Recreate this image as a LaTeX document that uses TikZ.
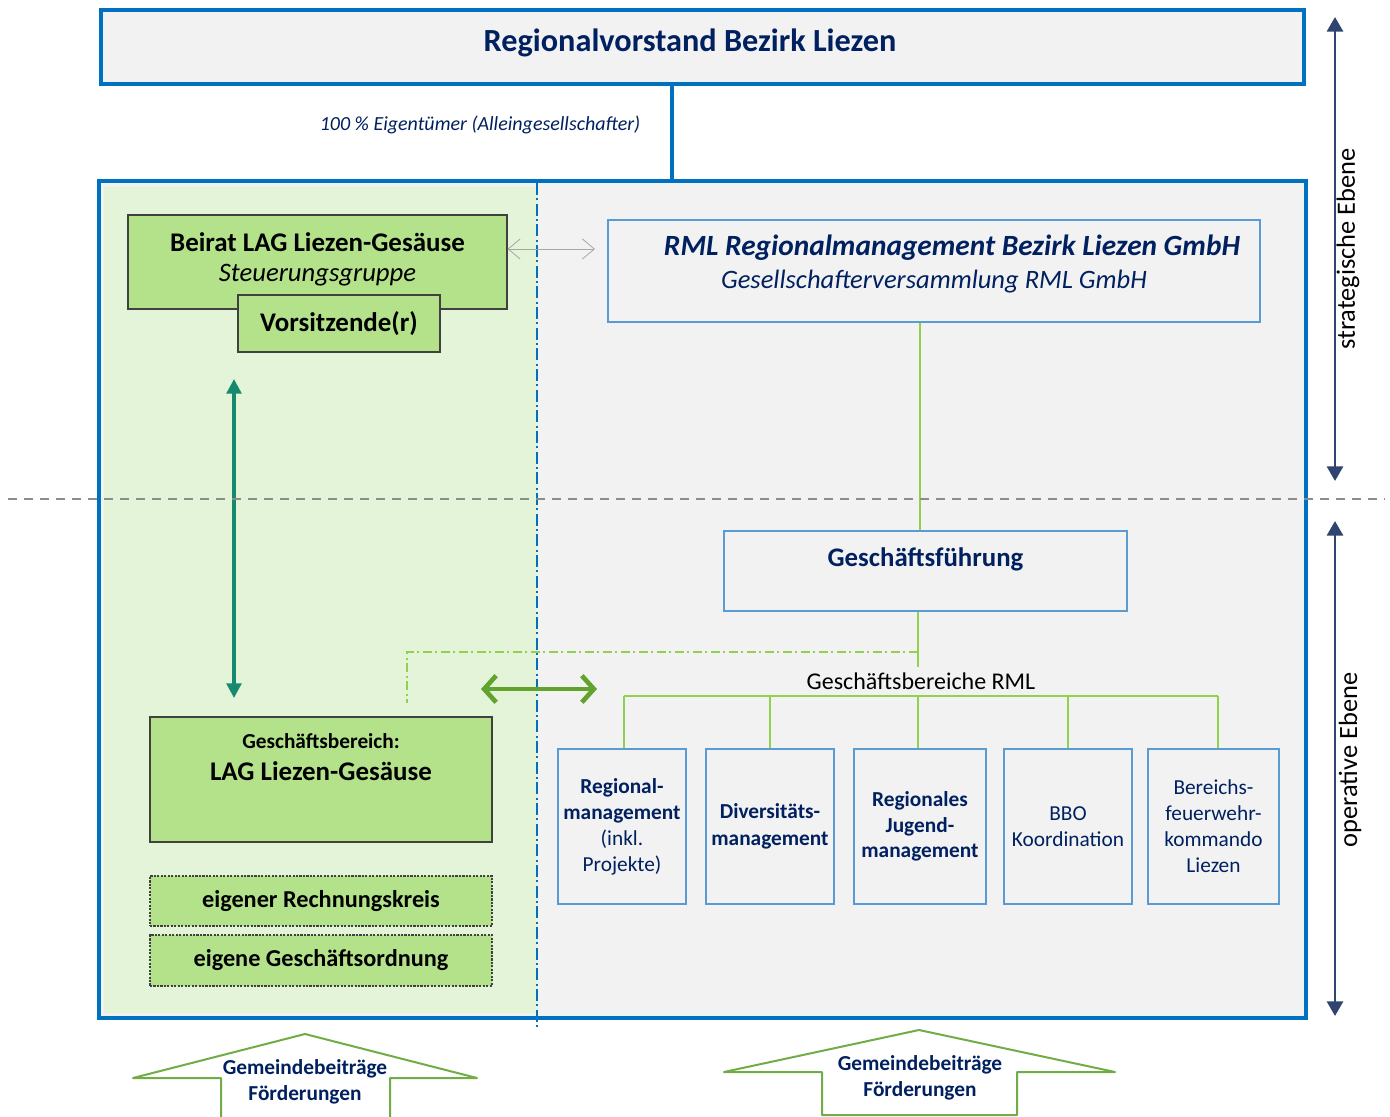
\documentclass[tikz,border=0pt]{standalone}
\usepackage{fontspec}
\setmainfont{Carlito}
\usetikzlibrary{arrows.meta}
\definecolor{bblue}{HTML}{0070C0}
\definecolor{lblue}{HTML}{5B9BD5}
\definecolor{navy}{HTML}{002060}
\definecolor{gfill}{HTML}{B3E28A}
\definecolor{gbg}{HTML}{E3F4D9}
\definecolor{lgreen}{HTML}{92D050}
\definecolor{dgreen}{HTML}{62A32E}
\definecolor{teal}{HTML}{16896F}
\definecolor{navyarrow}{HTML}{2F4470}
\definecolor{garrow}{HTML}{70AD47}
\definecolor{panel}{HTML}{F2F2F2}
\tikzset{
  bigframe/.style={draw=bblue, line width=3pt, fill=panel, inner sep=0pt},
  greenbox/.style={draw=black!75, line width=0.8pt, fill=gfill, inner sep=0pt},
  dotbox/.style={draw=black!75, dash pattern=on 1.6pt off 1pt, line width=0.8pt, fill=gfill, inner sep=0pt},
  bluebox/.style={draw=lblue, line width=0.9pt, fill=panel, inner sep=0pt},
  smallbox/.style={bluebox, minimum height=116.25pt, text=navy, align=center,
     font=\fontsize{16}{19.5}\selectfont},
  glink/.style={draw=lgreen, line width=1.4pt},
  lbl/.style={inner sep=0pt},
}
\begin{document}
\begin{tikzpicture}[x=0.75pt,y=-0.75pt]
\useasboundingbox (0,0) rectangle (1390,1117);
\fill[white] (0,0) rectangle (1390,1117);

% top box
\node[bigframe, minimum width=902.25pt, minimum height=55.5pt] (top) at (702.5,47) {};
\node[lbl, text=navy, font=\fontsize{24.2}{28}\selectfont\bfseries] (toptxt) at (690,43) {Regionalvorstand Bezirk Liezen};

% big frame
\node[bigframe, draw=none, minimum width=902.25pt, minimum height=624.75pt] (frame) at (702.5,599.5) {};
\fill[gbg] (104,187) rectangle (537,1013);
\draw[bblue, line width=3pt] (frame.north west) rectangle (frame.south east);

% ownership line
\coordinate (vx) at (672,0);
\draw[bblue, line width=3pt] (top.south -| vx) -- (frame.north -| vx);
\node[lbl, text=navy, font=\fontsize{15}{18}\selectfont\itshape] (own) at (480,125) {100 \% Eigentümer (Alleingesellschafter)};

% blue dash-dot separator
\coordinate (sepT) at (537,183);
\coordinate (sepB) at (537,1027);
\draw[bblue, line width=1.9pt, dash pattern=on 9pt off 2.5pt on 1.5pt off 2.5pt] (sepT) -- (sepB);

% Beirat
\node[greenbox, minimum width=284.25pt, minimum height=70.5pt] (beirat) at (317.5,262) {};
\node[lbl, font=\fontsize{20.2}{24}\selectfont\bfseries] (beirat1) at (317.5,242) {Beirat LAG Liezen-Gesäuse};
\node[lbl, font=\fontsize{20}{24}\selectfont\itshape] (beirat2) at (317.5,275) {Steuerungsgruppe};
\node[greenbox, minimum width=151.5pt, minimum height=42.75pt, font=\fontsize{20.2}{24}\selectfont\bfseries] (vors) at (339,323.5) {Vorsitzende(r)};

% RML
\node[bluebox, minimum width=489pt, minimum height=76.5pt] (rml) at (934,271) {};
\node[lbl, text=navy, font=\fontsize{22}{26}\selectfont\bfseries\itshape] (rml1) at (952,248) {RML Regionalmanagement Bezirk Liezen GmbH};
\node[lbl, text=navy, font=\fontsize{19.9}{24}\selectfont\itshape] (rml2) at (934,282) {Gesellschafterversammlung RML GmbH};

% gray double arrow
\coordinate (ga) at (595,249);
\draw[black!35, line width=0.6pt, {Straight Barb[length=9pt,width=15pt]}-{Straight Barb[length=9pt,width=15pt]}] (beirat.east |- ga) -- (ga);

% Geschaeftsfuehrung
\node[bluebox, minimum width=302.25pt, minimum height=60pt] (gf) at (925.5,571) {};
\node[lbl, text=navy, font=\fontsize{20.1}{24}\selectfont\bfseries] (gftxt) at (925.5,559) {Geschäftsführung};
\coordinate (gx) at (920,0);
\draw[glink] (rml.south -| gx) -- (gf.north -| gx);

% Geschaeftsbereiche
\node[lbl, font=\fontsize{18}{21}\selectfont] (gbr) at (921,681) {Geschäftsbereiche RML};
\coordinate (gfx) at (918,0);
\coordinate (gbrtop) at (918,667);
\draw[glink] (gf.south -| gfx) -- (gbrtop);

\node[smallbox, minimum width=96pt] (b1) at (622,826.5) {\textbf{Regional-}\\\textbf{management}\\(inkl.\\Projekte)};
\node[smallbox, minimum width=96pt, font=\fontsize{16}{20}\selectfont\bfseries] (b2) at (770,826.5) {Diversitäts-\\management};
\node[smallbox, minimum width=99pt, font=\fontsize{16}{19}\selectfont\bfseries] (b3) at (920,826.5) {Regionales\\Jugend-\\management};
\node[smallbox, minimum width=96pt] (b4) at (1068,826.5) {BBO\\Koordination};
\node[smallbox, minimum width=98.25pt] (b5) at (1213.5,826.5) {Bereichs-\\feuerwehr-\\kommando\\Liezen};

\coordinate (bus) at (0,696);
\coordinate (busL) at (624,0);
\coordinate (busR) at (1218,0);
\draw[glink] (busL |- bus) -- (busR |- bus);
\draw[glink] (b1.north -| busL) -- (busL |- bus);
\draw[glink] (b2.north) -- (b2.north |- bus);
\draw[glink] (b3.north -| gfx) -- (gfx |- bus);
\draw[glink] (b4.north) -- (b4.north |- bus);
\draw[glink] (b5.north -| busR) -- (busR |- bus);

% LAG Geschaeftsbereich
\node[greenbox, minimum width=256.5pt, minimum height=93.75pt] (gb) at (321,779.5) {};
\node[lbl, font=\fontsize{16}{19}\selectfont\bfseries] (gb1) at (321,741) {Geschäftsbereich:};
\node[lbl, font=\fontsize{20.2}{24}\selectfont\bfseries] (gb2) at (321,771) {LAG Liezen-Gesäuse};
\node[dotbox, minimum width=256.5pt, minimum height=37.5pt, font=\fontsize{18.2}{21}\selectfont\bfseries] (rech) at (321,901) {eigener Rechnungskreis};
\node[dotbox, minimum width=256.5pt, minimum height=38.25pt, font=\fontsize{18.2}{21}\selectfont\bfseries] (ord) at (321,960.5) {eigene Geschäftsordnung};

% dash-dot link
\coordinate (dd) at (0,652);
\coordinate (ddend) at (407,703);
\draw[lgreen, line width=1.4pt, dash pattern=on 7pt off 2.5pt on 1.5pt off 2.5pt] (gfx |- dd) -| (ddend);

% green double arrow
\coordinate (gaL) at (481,689);
\coordinate (gaR) at (597,689);
\draw[dgreen, line width=3.5pt, {Straight Barb[length=9pt,width=20pt]}-{Straight Barb[length=9pt,width=20pt]}] (gaL) -- (gaR);

% teal arrow
\coordinate (tT) at (234,379);
\coordinate (tB) at (234,698);
\draw[teal, line width=2.6pt, {Triangle[length=11pt,width=11pt]}-{Triangle[length=11pt,width=11pt]}] (tT) -- (tB);

% level separator
\coordinate (dL) at (8,499);
\coordinate (dR) at (1385,499);
\draw[black!45, line width=1.3pt, dash pattern=on 7pt off 5pt] (dL) -- (dR);

% right level arrows
\coordinate (s1) at (1335,17);
\coordinate (s2) at (1335,481);
\coordinate (o1) at (1335,521);
\coordinate (o2) at (1335,1016);
\draw[navyarrow, line width=2.2pt, {Triangle[length=11pt,width=12pt]}-{Triangle[length=11pt,width=12pt]}] (s1) -- (s2);
\draw[navyarrow, line width=2.2pt, {Triangle[length=11pt,width=12pt]}-{Triangle[length=11pt,width=12pt]}] (o1) -- (o2);
\node[lbl, rotate=90, font=\fontsize{19.8}{23}\selectfont] (strat) at (1348,249) {strategische Ebene};
\node[lbl, rotate=90, font=\fontsize{19.8}{23}\selectfont] (oper) at (1350,760) {operative Ebene};

% bottom block arrows
\draw[garrow, line width=1.5pt, line join=round] (221,1117) -- (221,1078) -- (133,1078) -- (305,1034) -- (477,1078) -- (390,1078) -- (390,1117);
\draw[garrow, line width=1.5pt, line join=round] (822,1115) -- (822,1072) -- (724,1072) -- (919,1030) -- (1115,1072) -- (1017,1072) -- (1017,1115) -- cycle;
\node[lbl, text=navy, font=\fontsize{16}{19.5}\selectfont\bfseries, align=center] (fin1) at (305,1082) {Gemeindebeiträge\\Förderungen};
\node[lbl, text=navy, font=\fontsize{16}{19.5}\selectfont\bfseries, align=center] (fin2) at (920,1078) {Gemeindebeiträge\\Förderungen};
\end{tikzpicture}
\end{document}
